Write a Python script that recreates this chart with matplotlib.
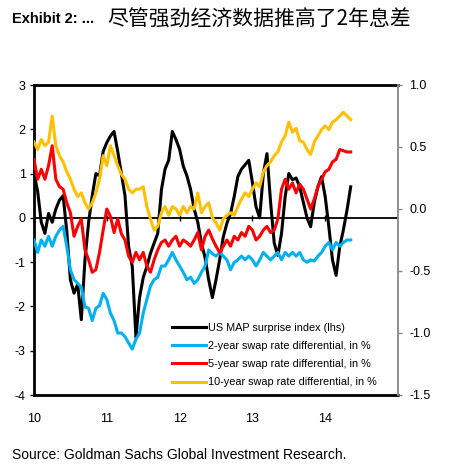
import numpy as np
import matplotlib
matplotlib.use("Agg")
import matplotlib.pyplot as plt

plt.rcParams['font.family'] = ['Liberation Sans', 'DejaVu Sans']

# time axis: fractional years (10 = 2010), roughly every 18 days
years = np.round(np.arange(10.0, 14.351, 0.05), 2)

# US MAP surprise index (lhs)
us_map = [1.0, 0.6, -0.1, -0.35, 0.1, -0.1, 0.2, 0.4, 0.5, -0.3,
          -1.4, -1.7, -1.5, -2.3, -0.95, -0.1, 0.5, 1.0, 0.95, 1.5,
          1.7, 1.85, 1.95, 1.5, 1.0, 0.5, -0.65, -1.1, -2.7, -1.8,
          -1.35, -1.1, -0.8, -0.57, -0.35, 0.63, 1.1, 1.3, 1.95, 1.77,
          1.55, 1.17, 0.95, 0.65, 0.2, -0.1, -0.57, -0.9, -1.4, -1.8,
          -1.4, -0.95, -0.43, -0.12, 0.1, 0.48, 0.93, 1.1, 1.2, 1.3,
          0.8, 0.25, 0.0, 1.0, 1.45, 0.35, -0.57, -0.85, -0.35, 0.48,
          1.0, 0.86, 0.9, 0.7, 0.35, 0.0, -0.2, 0.35, 0.7, 0.93,
          0.48, -0.2, -0.95, -1.3, -0.65, -0.27, 0.18, 0.7]

# swap rate differentials, in % (rhs)
swap_2y = [-0.25, -0.35, -0.25, -0.3, -0.22, -0.3, -0.22, -0.17, -0.14, -0.3,
           -0.49, -0.57, -0.6, -0.63, -0.79, -0.8, -0.9, -0.8, -0.78, -0.68,
           -0.73, -0.84, -0.9, -1.0, -1.0, -1.03, -1.08, -1.13, -1.05, -1.0,
           -0.84, -0.73, -0.62, -0.57, -0.55, -0.46, -0.46, -0.41, -0.35, -0.41,
           -0.46, -0.51, -0.57, -0.55, -0.6, -0.57, -0.51, -0.46, -0.33, -0.36,
           -0.38, -0.35, -0.38, -0.41, -0.49, -0.43, -0.41, -0.38, -0.41, -0.38,
           -0.41, -0.46, -0.41, -0.35, -0.38, -0.41, -0.38, -0.35, -0.41, -0.35,
           -0.38, -0.35, -0.38, -0.35, -0.41, -0.43, -0.41, -0.42, -0.38, -0.35,
           -0.3, -0.27, -0.33, -0.27, -0.3, -0.27, -0.25, -0.25]

swap_5y = [0.4, 0.24, 0.32, 0.24, 0.35, 0.51, 0.24, 0.18, 0.16, 0.05,
           -0.03, -0.22, -0.14, -0.08, -0.33, -0.41, -0.51, -0.49, -0.35, -0.17,
           0.0, -0.06, -0.19, -0.08, -0.2, -0.25, -0.38, -0.43, -0.35, -0.41,
           -0.35, -0.46, -0.51, -0.41, -0.33, -0.27, -0.25, -0.3, -0.25, -0.22,
           -0.3, -0.25, -0.27, -0.3, -0.25, -0.19, -0.33, -0.22, -0.17, -0.24,
           -0.3, -0.35, -0.3, -0.25, -0.3, -0.22, -0.25, -0.19, -0.22, -0.14,
           -0.17, -0.25, -0.22, -0.17, -0.14, -0.19, -0.17, -0.08, 0.16, 0.24,
           0.16, 0.21, 0.13, 0.2, 0.16, 0.08, 0.0, 0.08, 0.18, 0.24,
           0.3, 0.32, 0.38, 0.4, 0.48, 0.47, 0.46, 0.46]

swap_10y = [0.54, 0.48, 0.56, 0.51, 0.54, 0.75, 0.51, 0.43, 0.38, 0.3,
            0.24, 0.16, 0.1, 0.13, 0.05, 0.0, 0.05, 0.13, 0.24, 0.43,
            0.35, 0.51, 0.43, 0.35, 0.28, 0.24, 0.16, 0.13, 0.16, 0.16,
            0.18, 0.02, -0.08, -0.17, -0.14, -0.03, 0.02, -0.05, 0.02, 0.0,
            -0.05, 0.02, -0.03, 0.02, 0.0, 0.13, -0.03, 0.02, 0.05, -0.07,
            -0.11, -0.17, -0.08, -0.05, -0.03, -0.05, 0.02, 0.08, 0.13, 0.1,
            0.16, 0.21, 0.18, 0.3, 0.35, 0.38, 0.43, 0.46, 0.54, 0.59,
            0.7, 0.62, 0.65, 0.55, 0.54, 0.48, 0.44, 0.54, 0.59, 0.64,
            0.67, 0.64, 0.7, 0.72, 0.75, 0.78, 0.75, 0.72]

labels = ["US MAP surprise index (lhs)",
          "2-year swap rate differential, in %",
          "5-year swap rate differential, in %",
          "10-year swap rate differential, in %"]
colors = ["#000000", "#00B0F0", "#FF0000", "#FFC000"]

x_ticks = [10, 11, 12, 13, 14]
left_ticks = [3, 2, 1, 0, -1, -2, -3, -4]
right_ticks = [1.0, 0.5, 0.0, -0.5, -1.0, -1.5]

fig = plt.figure(figsize=(4.5, 4.67), dpi=100)
ax = fig.add_axes([34 / 450, 1 - 395 / 467, 364 / 450, 310 / 467])
ax2 = ax.twinx()

lw = 2.2
h0, = ax.plot(years, us_map, color=colors[0], lw=lw, label=labels[0])
ax.axhline(0, color='black', lw=1.3, zorder=1)
ax.plot(x_ticks, [0] * len(x_ticks), ls='none', marker='|', ms=5,
        mew=1, color='black')
h1, = ax2.plot(years, swap_2y, color=colors[1], lw=lw, label=labels[1])
h2, = ax2.plot(years, swap_5y, color=colors[2], lw=lw, label=labels[2])
h3, = ax2.plot(years, swap_10y, color=colors[3], lw=lw, label=labels[3])

ax.set_xlim(10, 15)
ax.set_ylim(-4, 3)
ax2.set_ylim(-1.5, 1.0)

ax.set_xticks(x_ticks)
ax.set_xticklabels([str(v) for v in x_ticks])
ax.set_yticks(left_ticks)
ax.set_yticklabels([str(v) for v in left_ticks])
ax2.set_yticks(right_ticks)
ax2.set_yticklabels([f"{v:.1f}" for v in right_ticks])

ax.tick_params(axis='x', length=0, pad=13, labelsize=9)
ax.tick_params(axis='y', length=3, width=1, pad=3, labelsize=9,
               color='black')
ax2.tick_params(axis='y', length=3, width=1, pad=5, labelsize=9,
                color='#888888')

for side in ['top', 'left', 'bottom']:
    ax.spines[side].set_linewidth(2.0)
    ax.spines[side].set_color('black')
    ax2.spines[side].set_visible(False)
ax.spines['right'].set_visible(False)
ax2.spines['right'].set_color('#888888')
ax2.spines['right'].set_linewidth(1.3)

ax2.legend(handles=[h0, h1, h2, h3], loc='upper left',
           bbox_to_anchor=(172 / 450, 1 - 323 / 467),
           bbox_transform=fig.transFigure, frameon=False, fontsize=7.8,
           borderpad=0, borderaxespad=0, handlelength=3.1,
           handletextpad=0.25, labelspacing=0.75)

fig.text(12 / 450, 1 - 19 / 467, "Exhibit 2: ...", fontsize=10.5,
         fontweight='bold', va='center', ha='left')
fig.text(107 / 450, 1 - 19 / 467, "尽管强劲经济数据推高了2年息差", fontsize=15,
         va='center', ha='left', family=['Noto Sans CJK SC', 'DejaVu Sans'])
fig.text(12 / 450, 1 - 455 / 467,
         "Source: Goldman Sachs Global Investment Research.",
         fontsize=10, va='center', ha='left')

fig.savefig("out.png", dpi=100)
